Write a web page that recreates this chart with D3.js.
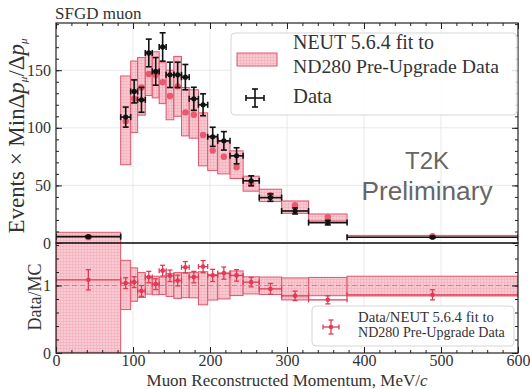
<!DOCTYPE html>
<html>
<head>
<meta charset="utf-8">
<script src="https://cdn.jsdelivr.net/npm/d3@7"></script>
<style>
  body { margin: 0; background: #fff; }
  svg text { font-family: "Liberation Serif", "DejaVu Serif", serif; fill: #333; }
</style>
</head>
<body>
<div id="chart"></div>
<script>
const width = 530;
const height = 389;
const serif = "'Liberation Serif', 'DejaVu Serif', serif";

// bin edges in MeV/c
const binEdges = [0, 84, 97, 106, 116, 125, 134, 143, 153, 163, 173, 185, 197, 210, 226, 243, 264, 293, 328, 378, 600];
// data (black) and its errors
const dataVals = [5.5, 109.3, 131.6, 124.3, 165, 149, 170.2, 146, 146, 144, 125.2, 120, 92.2, 88.7, 75.7, 54, 39.4, 27.8, 17.7, 5];
const dataErr = [0.8, 8.7, 10, 10.8, 12, 12, 12.3, 11, 11, 11, 10, 9.5, 8.3, 8, 7, 4.3, 3.2, 2.6, 2, 0.8];
// NEUT fit (red) and its uncertainty band
const mcVals = [5.1, 105.6, 125.3, 135.1, 146.7, 146, 139.5, 127.6, 136, 113.4, 111.3, 93.8, 80.2, 74.9, 65.8, 51.4, 41.5, 32.8, 22.5, 5.8];
const bandLo = [0, 68, 96, 111, 128, 126, 121, 107, 110, 93, 91, 67, 63, 60, 56, 45, 36, 25.8, 19.1, 4.9];
const bandHi = [9.3, 145, 158, 161, 166, 166, 157, 150, 162, 135, 133, 113, 93, 88, 80, 58, 46.7, 36.5, 25.2, 6.6];
// ratio panel
const ratioVals = [1.085, 1.035, 1.05, 0.92, 1.125, 1.02, 1.22, 1.144, 1.074, 1.27, 1.125, 1.28, 1.15, 1.184, 1.15, 1.05, 0.95, 0.847, 0.788, 0.862];
const ratioErr = [0.15, 0.08, 0.08, 0.08, 0.085, 0.08, 0.08, 0.085, 0.08, 0.085, 0.085, 0.09, 0.09, 0.09, 0.085, 0.07, 0.08, 0.07, 0.06, 0.075];

const xTicks = [0, 100, 200, 300, 400, 500, 600];
const topYTicks = [0, 50, 100, 150];
const botYTicks = [0, 1];

const redLine = "#e0566c";
const redDot = "#e8475f";
const redRatio = "#e03a55";

const x = d3.scaleLinear().domain([0, 600]).range([56, 518]);
const yTop = d3.scaleLinear().domain([0, 191]).range([243, 23]);
const yBot = d3.scaleLinear().domain([0, 1.63]).range([353, 243]);

const bins = binEdges.slice(0, -1).map((lo, i) => ({
  lo: lo,
  hi: binEdges[i + 1],
  c: (lo + binEdges[i + 1]) / 2,
  data: dataVals[i],
  dErr: dataErr[i],
  mc: mcVals[i],
  bLo: bandLo[i],
  bHi: bandHi[i],
  r: ratioVals[i],
  rErr: ratioErr[i],
}));

const svg = d3
  .select("#chart")
  .append("svg")
  .attr("width", width)
  .attr("height", height);

const defs = svg.append("defs");
const pat = defs
  .append("pattern")
  .attr("id", "hatch")
  .attr("patternUnits", "userSpaceOnUse")
  .attr("width", 3)
  .attr("height", 3);
pat.append("rect").attr("width", 3).attr("height", 3).attr("fill", "#f8cbd2");
pat.append("path").attr("d", "M0,0.5H3M0.5,0V3").attr("stroke", "#f2adb8").attr("stroke-width", 0.6);

defs.append("clipPath").attr("id", "clipTop")
  .append("rect").attr("x", 56).attr("y", 23).attr("width", 462).attr("height", 220);
defs.append("clipPath").attr("id", "clipBot")
  .append("rect").attr("x", 56).attr("y", 243).attr("width", 462).attr("height", 110);

// shrink or grow a text's font so that it spans w pixels
function fitText(sel, w) {
  const cur = sel.node().getComputedTextLength();
  const fs = parseFloat(sel.style("font-size"));
  sel.style("font-size", (fs * w) / cur + "px");
}

function errBar(g, cx, cy, x0, x1, y0, y1, color, lw, cap) {
  g.append("line").attr("x1", x0).attr("x2", x1).attr("y1", cy).attr("y2", cy)
    .attr("stroke", color).attr("stroke-width", lw);
  g.append("line").attr("x1", cx).attr("x2", cx).attr("y1", y0).attr("y2", y1)
    .attr("stroke", color).attr("stroke-width", lw);
  [x0, x1].forEach((xx) => g.append("line").attr("x1", xx).attr("x2", xx)
    .attr("y1", cy - cap).attr("y2", cy + cap).attr("stroke", color).attr("stroke-width", lw));
  [y0, y1].forEach((yy) => g.append("line").attr("x1", cx - cap).attr("x2", cx + cap)
    .attr("y1", yy).attr("y2", yy).attr("stroke", color).attr("stroke-width", lw));
}

// grid
const grid = svg.append("g").attr("stroke", "#e3e3e3").attr("stroke-width", 0.8);
xTicks.slice(1, -1).forEach((t) => {
  grid.append("line").attr("x1", x(t)).attr("x2", x(t)).attr("y1", 23).attr("y2", 353);
});
topYTicks.slice(1).forEach((t) => {
  grid.append("line").attr("x1", 56).attr("x2", 518).attr("y1", yTop(t)).attr("y2", yTop(t));
});

// ---- top panel
const topG = svg.append("g").attr("clip-path", "url(#clipTop)");

topG.selectAll("rect.band")
  .data(bins)
  .join("rect")
  .attr("class", "band")
  .attr("x", (d) => x(d.lo))
  .attr("width", (d) => x(d.hi) - x(d.lo))
  .attr("y", (d) => yTop(d.bHi))
  .attr("height", (d) => yTop(d.bLo) - yTop(d.bHi))
  .attr("fill", "url(#hatch)")
  .attr("stroke", redLine)
  .attr("stroke-width", 1);

topG.selectAll("circle.mc")
  .data(bins)
  .join("circle")
  .attr("class", "mc")
  .attr("cx", (d) => x(d.c))
  .attr("cy", (d) => yTop(d.mc))
  .attr("r", 3.2)
  .attr("fill", redDot)
  .attr("opacity", 0.85);

const dataG = topG.append("g");
bins.forEach((d) => {
  errBar(dataG, x(d.c), yTop(d.data), x(d.lo), x(d.hi),
    yTop(d.data + d.dErr), yTop(d.data - d.dErr), "#111", 1.6, 3);
});
dataG.selectAll("circle")
  .data(bins)
  .join("circle")
  .attr("cx", (d) => x(d.c))
  .attr("cy", (d) => yTop(d.data))
  .attr("r", 2.6)
  .attr("fill", "#111");

// ---- bottom panel
const botG = svg.append("g").attr("clip-path", "url(#clipBot)");

botG.selectAll("rect.rband")
  .data(bins)
  .join("rect")
  .attr("class", "rband")
  .attr("x", (d) => x(d.lo))
  .attr("width", (d) => x(d.hi) - x(d.lo))
  .attr("y", (d) => yBot(d.bHi / d.mc))
  .attr("height", (d) => yBot(d.bLo / d.mc) - yBot(d.bHi / d.mc))
  .attr("fill", "url(#hatch)")
  .attr("stroke", redLine)
  .attr("stroke-width", 1);

botG.append("line")
  .attr("x1", 56).attr("x2", 518)
  .attr("y1", yBot(1)).attr("y2", yBot(1))
  .attr("stroke", "#999")
  .attr("stroke-width", 1.2)
  .attr("stroke-dasharray", "5,3");

const ratioG = botG.append("g");
bins.forEach((d) => {
  errBar(ratioG, x(d.c), yBot(d.r), x(d.lo), x(d.hi),
    yBot(d.r + d.rErr), yBot(d.r - d.rErr), redRatio, 1.3, 2.5);
});
ratioG.selectAll("circle")
  .data(bins)
  .join("circle")
  .attr("cx", (d) => x(d.c))
  .attr("cy", (d) => yBot(d.r))
  .attr("r", 2.3)
  .attr("fill", redRatio);

// ---- axes
function styleAxis(g) {
  g.select(".domain").remove();
  g.attr("font-family", null);
  g.selectAll(".tick line").attr("stroke", "#222").attr("stroke-width", 1);
  g.selectAll("text").style("font-family", serif).style("font-size", "16px").attr("fill", "#333");
}

function ticksY(scale, major, minor, withLabels) {
  svg.append("g")
    .attr("transform", "translate(56,0)")
    .call(d3.axisLeft(scale).tickValues(major).tickSize(-6).tickPadding(5)
      .tickFormat(withLabels ? d3.format("d") : ""))
    .call(styleAxis);
  svg.append("g")
    .attr("transform", "translate(56,0)")
    .call(d3.axisLeft(scale).tickValues(minor).tickSize(-3).tickFormat(""))
    .call(styleAxis);
  svg.append("g")
    .attr("transform", "translate(518,0)")
    .call(d3.axisRight(scale).tickValues(major).tickSize(-6).tickFormat(""))
    .call(styleAxis);
  svg.append("g")
    .attr("transform", "translate(518,0)")
    .call(d3.axisRight(scale).tickValues(minor).tickSize(-3).tickFormat(""))
    .call(styleAxis);
}
ticksY(yTop, topYTicks, d3.range(0, 191, 10), true);
ticksY(yBot, botYTicks, d3.range(0, 1.62, 0.2), true);

svg.append("g")
  .attr("transform", "translate(0,353)")
  .call(d3.axisBottom(x).tickValues(xTicks).tickSize(-6).tickPadding(2))
  .call(styleAxis);
svg.append("g")
  .attr("transform", "translate(0,353)")
  .call(d3.axisBottom(x).tickValues(d3.range(0, 601, 20)).tickSize(-3).tickFormat(""))
  .call(styleAxis);
svg.append("g")
  .attr("transform", "translate(0,23)")
  .call(d3.axisTop(x).tickValues(xTicks).tickSize(-6).tickFormat(""))
  .call(styleAxis);
svg.append("g")
  .attr("transform", "translate(0,23)")
  .call(d3.axisTop(x).tickValues(d3.range(0, 601, 20)).tickSize(-3).tickFormat(""))
  .call(styleAxis);

// frames
svg.append("rect").attr("x", 56).attr("y", 23).attr("width", 462).attr("height", 220)
  .attr("fill", "none").attr("stroke", "#222").attr("stroke-width", 1.2);
svg.append("rect").attr("x", 56).attr("y", 243).attr("width", 462).attr("height", 110)
  .attr("fill", "none").attr("stroke", "#222").attr("stroke-width", 1.2);

// ---- texts
svg.append("text").attr("x", 55).attr("y", 19)
  .style("font-family", serif).style("font-size", "17px").text("SFGD muon");

const xl = svg.append("text").attr("x", 287).attr("y", 386).attr("text-anchor", "middle")
  .style("font-family", serif).style("font-size", "17px");
xl.append("tspan").text("Muon Reconstructed Momentum, MeV/");
xl.append("tspan").style("font-style", "italic").text("c");
fitText(xl, 281);

const yl = svg.append("text")
  .attr("transform", "translate(24,136) rotate(-90)")
  .attr("text-anchor", "middle")
  .style("font-family", serif)
  .style("font-size", "16px");
yl.append("tspan").text("Events × MinΔ");
yl.append("tspan").style("font-style", "italic").text("p");
yl.append("tspan").style("font-style", "italic").style("font-size", "11px").attr("dy", 3).text("μ");
yl.append("tspan").attr("dy", -3).text("/Δ");
yl.append("tspan").style("font-style", "italic").text("p");
yl.append("tspan").style("font-style", "italic").style("font-size", "11px").attr("dy", 3).text("μ");
fitText(yl, 200);

const rl = svg.append("text")
  .attr("transform", "translate(41,297) rotate(-90)")
  .attr("text-anchor", "middle")
  .style("font-family", serif)
  .style("font-size", "16px")
  .text("Data/MC");
fitText(rl, 67);

// T2K preliminary
svg.append("text").attr("x", 427).attr("y", 169).attr("text-anchor", "middle")
  .style("font-family", "'Liberation Sans', Arial, sans-serif").style("font-size", "24px")
  .style("fill", "#666").text("T2K");
const pre = svg.append("text").attr("x", 427).attr("y", 200).attr("text-anchor", "middle")
  .style("font-family", "'Liberation Sans', Arial, sans-serif").style("font-size", "24px")
  .style("fill", "#666").text("Preliminary");
fitText(pre, 131);

// ---- top legend
const lg = svg.append("g");
lg.append("rect").attr("x", 231).attr("y", 33).attr("width", 286).attr("height", 82).attr("rx", 4)
  .attr("fill", "#fff").attr("fill-opacity", 0.85).attr("stroke", "#d6d6d6");
lg.append("rect").attr("x", 237).attr("y", 53).attr("width", 40).attr("height", 13)
  .attr("fill", "url(#hatch)").attr("stroke", redLine);
errBar(lg, 255, 98, 246, 264, 89, 107, "#111", 1.6, 3);
const l1 = lg.append("text").attr("x", 293).attr("y", 49).style("font-family", serif)
  .style("font-size", "19px").text("NEUT 5.6.4 fit to");
fitText(l1, 141);
const l2 = lg.append("text").attr("x", 293).attr("y", 73).style("font-family", serif)
  .style("font-size", "19px").text("ND280 Pre-Upgrade Data");
fitText(l2, 206);
const l3 = lg.append("text").attr("x", 293).attr("y", 103).style("font-family", serif)
  .style("font-size", "19px").text("Data");
fitText(l3, 39);

// ---- bottom legend
const lg2 = svg.append("g");
lg2.append("rect").attr("x", 312).attr("y", 306).attr("width", 202).attr("height", 40).attr("rx", 4)
  .attr("fill", "#fff").attr("fill-opacity", 0.85).attr("stroke", "#d6d6d6");
errBar(lg2, 331, 327, 323, 339, 320, 334, redRatio, 1.3, 2.5);
lg2.append("circle").attr("cx", 331).attr("cy", 327).attr("r", 2.3).attr("fill", redRatio);
const b1 = lg2.append("text").attr("x", 358).attr("y", 322).style("font-family", serif)
  .style("font-size", "13px").text("Data/NEUT 5.6.4 fit to");
fitText(b1, 136);
const b2 = lg2.append("text").attr("x", 358).attr("y", 337).style("font-family", serif)
  .style("font-size", "13px").text("ND280 Pre-Upgrade Data");
fitText(b2, 147);
</script>
</body>
</html>
